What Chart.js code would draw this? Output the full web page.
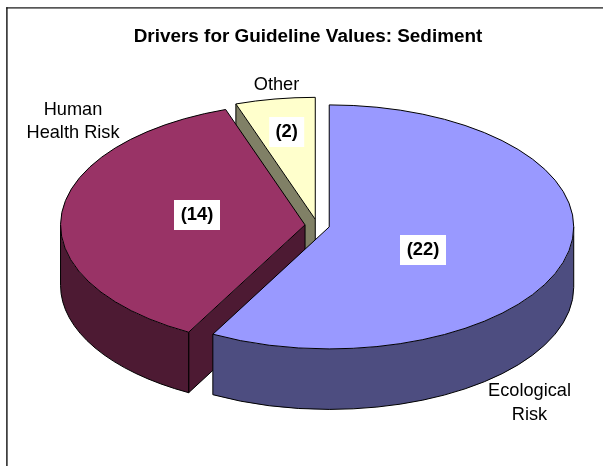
<!DOCTYPE html>
<html>
<head>
<meta charset="utf-8">
<style>
html,body{margin:0;padding:0;background:#fff;overflow:hidden}
#wrap{position:absolute;left:0;top:0;width:603px;height:466px}
</style>
<script src="https://cdn.jsdelivr.net/npm/chart.js@4"></script>
</head>
<body>
<div id="wrap"><canvas id="c" width="603" height="466"></canvas></div>
<script>
// ---- data ----
const chartTitle = 'Drivers for Guideline Values: Sediment';
const categories = ['Ecological Risk', 'Human Health Risk', 'Other'];
const values = [22, 14, 2];
const categoryLines = [['Ecological', 'Risk'], ['Human', 'Health Risk'], ['Other']];

// ---- styles ----
const topColors = ['#9999FF', '#993366', '#FFFFCC'];
const wallColors = ['#4D4D80', '#4D1A33', '#808066'];

// ---- layout (pixels) ----
const PIE_CX = 317.3, PIE_CY = 225.4, PIE_R = 244.5, SQUASH = 0.499, DEPTH = 60.5, EXPLODE = 12.3;
const nameAnchors = [[529.5, 391, 414.5], [73, 109.5, 133], [276.5, 85]];   // x, then a y per line
const valueAnchors = [[423, 250, 46], [197, 215, 46], [286.7, 132, 35]];    // x, y, box width
const VALUE_BOX_H = 30;

const pie3d = {
  id: 'pie3d',
  beforeDraw(chart) {
    const ctx = chart.ctx;
    ctx.save();
    ctx.fillStyle = '#111';
    ctx.fillRect(6.2, 7.3, 1.4, chart.height);
    ctx.fillRect(6.2, 7.3, chart.width, 1.2);
    ctx.restore();
  },
  beforeDatasetDraw(chart) {
    const ctx = chart.ctx;
    const els = chart.getDatasetMeta(0).data;
    // paint from back to front
    for (let i = els.length - 1; i >= 0; i--) {
      const el = els[i];
      const s = el.startAngle, e = el.endAngle, mid = (s + e) / 2;
      const x0 = PIE_CX + EXPLODE * Math.cos(mid);
      const y0 = PIE_CY + EXPLODE * Math.sin(mid) * SQUASH;
      const r = el.outerRadius, ry = r * SQUASH;
      const pt = (a, d) => [x0 + r * Math.cos(a), y0 + r * Math.sin(a) * SQUASH + d];

      ctx.save();
      ctx.strokeStyle = '#000';
      ctx.fillStyle = wallColors[i];
      ctx.lineWidth = 1;
      ctx.lineJoin = 'round';
      const line = (a, b) => {
        ctx.beginPath();
        ctx.moveTo(a[0], a[1]);
        ctx.lineTo(b[0], b[1]);
        ctx.stroke();
      };
      // cut face turned to the viewer
      if (Math.cos(s) < -1e-6) {
        const c = pt(s, 0), cd = pt(s, DEPTH);
        ctx.beginPath();
        ctx.moveTo(x0, y0);
        ctx.lineTo(c[0], c[1]);
        ctx.lineTo(cd[0], cd[1]);
        ctx.lineTo(x0, y0 + DEPTH);
        ctx.closePath();
        ctx.fill();
        line([x0, y0], [x0, y0 + DEPTH]);
        line([x0, y0 + DEPTH], cd);
        line(c, cd);
      }
      // front part of the rim
      const a0 = Math.max(s, 0), a1 = Math.min(e, Math.PI);
      if (a1 > a0) {
        ctx.beginPath();
        ctx.ellipse(x0, y0 + DEPTH, r, ry, 0, a0, a1);
        ctx.ellipse(x0, y0, r, ry, 0, a1, a0, true);
        ctx.closePath();
        ctx.fill();
        ctx.beginPath();
        ctx.ellipse(x0, y0 + DEPTH, r, ry, 0, a0, a1);
        ctx.stroke();
        line(pt(a0, 0), pt(a0, DEPTH));
        line(pt(a1, 0), pt(a1, DEPTH));
      }

      // top face, drawn by the library's arc element
      ctx.save();
      ctx.translate(x0, y0);
      ctx.scale(1, SQUASH);
      ctx.translate(-el.x, -el.y);
      el.draw(ctx);
      ctx.restore();
      ctx.beginPath();
      ctx.moveTo(x0, y0);
      ctx.ellipse(x0, y0, r, ry, 0, s, e);
      ctx.closePath();
      ctx.stroke();
      ctx.restore();
    }
    return false;
  },
  afterDatasetsDraw(chart) {
    const ctx = chart.ctx;
    ctx.save();
    ctx.textAlign = 'center';
    ctx.textBaseline = 'middle';
    ctx.fillStyle = '#000';
    ctx.font = '18.2px "Liberation Sans", Arial, sans-serif';
    categoryLines.forEach((lines, i) => {
      lines.forEach((txt, j) => ctx.fillText(txt, nameAnchors[i][0], nameAnchors[i][j + 1]));
    });
    ctx.font = 'bold 18.4px "Liberation Sans", Arial, sans-serif';
    values.forEach((v, i) => {
      const [x, y, w] = valueAnchors[i];
      ctx.fillStyle = '#fff';
      ctx.fillRect(x - w / 2, y - VALUE_BOX_H / 2, w, VALUE_BOX_H);
      ctx.fillStyle = '#000';
      ctx.fillText('(' + v + ')', x, y);
    });
    ctx.restore();
  }
};

new Chart(document.getElementById('c'), {
  type: 'pie',
  data: {
    labels: categories,
    datasets: [{
      data: values,
      backgroundColor: topColors,
      borderWidth: 0,
      hoverOffset: 0,
      clip: false
    }]
  },
  options: {
    responsive: false,
    animation: false,
    events: [],
    radius: PIE_R,
    rotation: 0,
    layout: {padding: {left: 13, right: 0, top: 0, bottom: 0}},
    plugins: {
      legend: {display: false},
      tooltip: {enabled: false},
      title: {
        display: true,
        text: chartTitle,
        color: '#000',
        font: {family: '"Liberation Sans", Arial, sans-serif', size: 18.9, weight: 'bold'},
        padding: {top: 25, bottom: 6}
      }
    }
  },
  plugins: [pie3d]
});
</script>
</body>
</html>
